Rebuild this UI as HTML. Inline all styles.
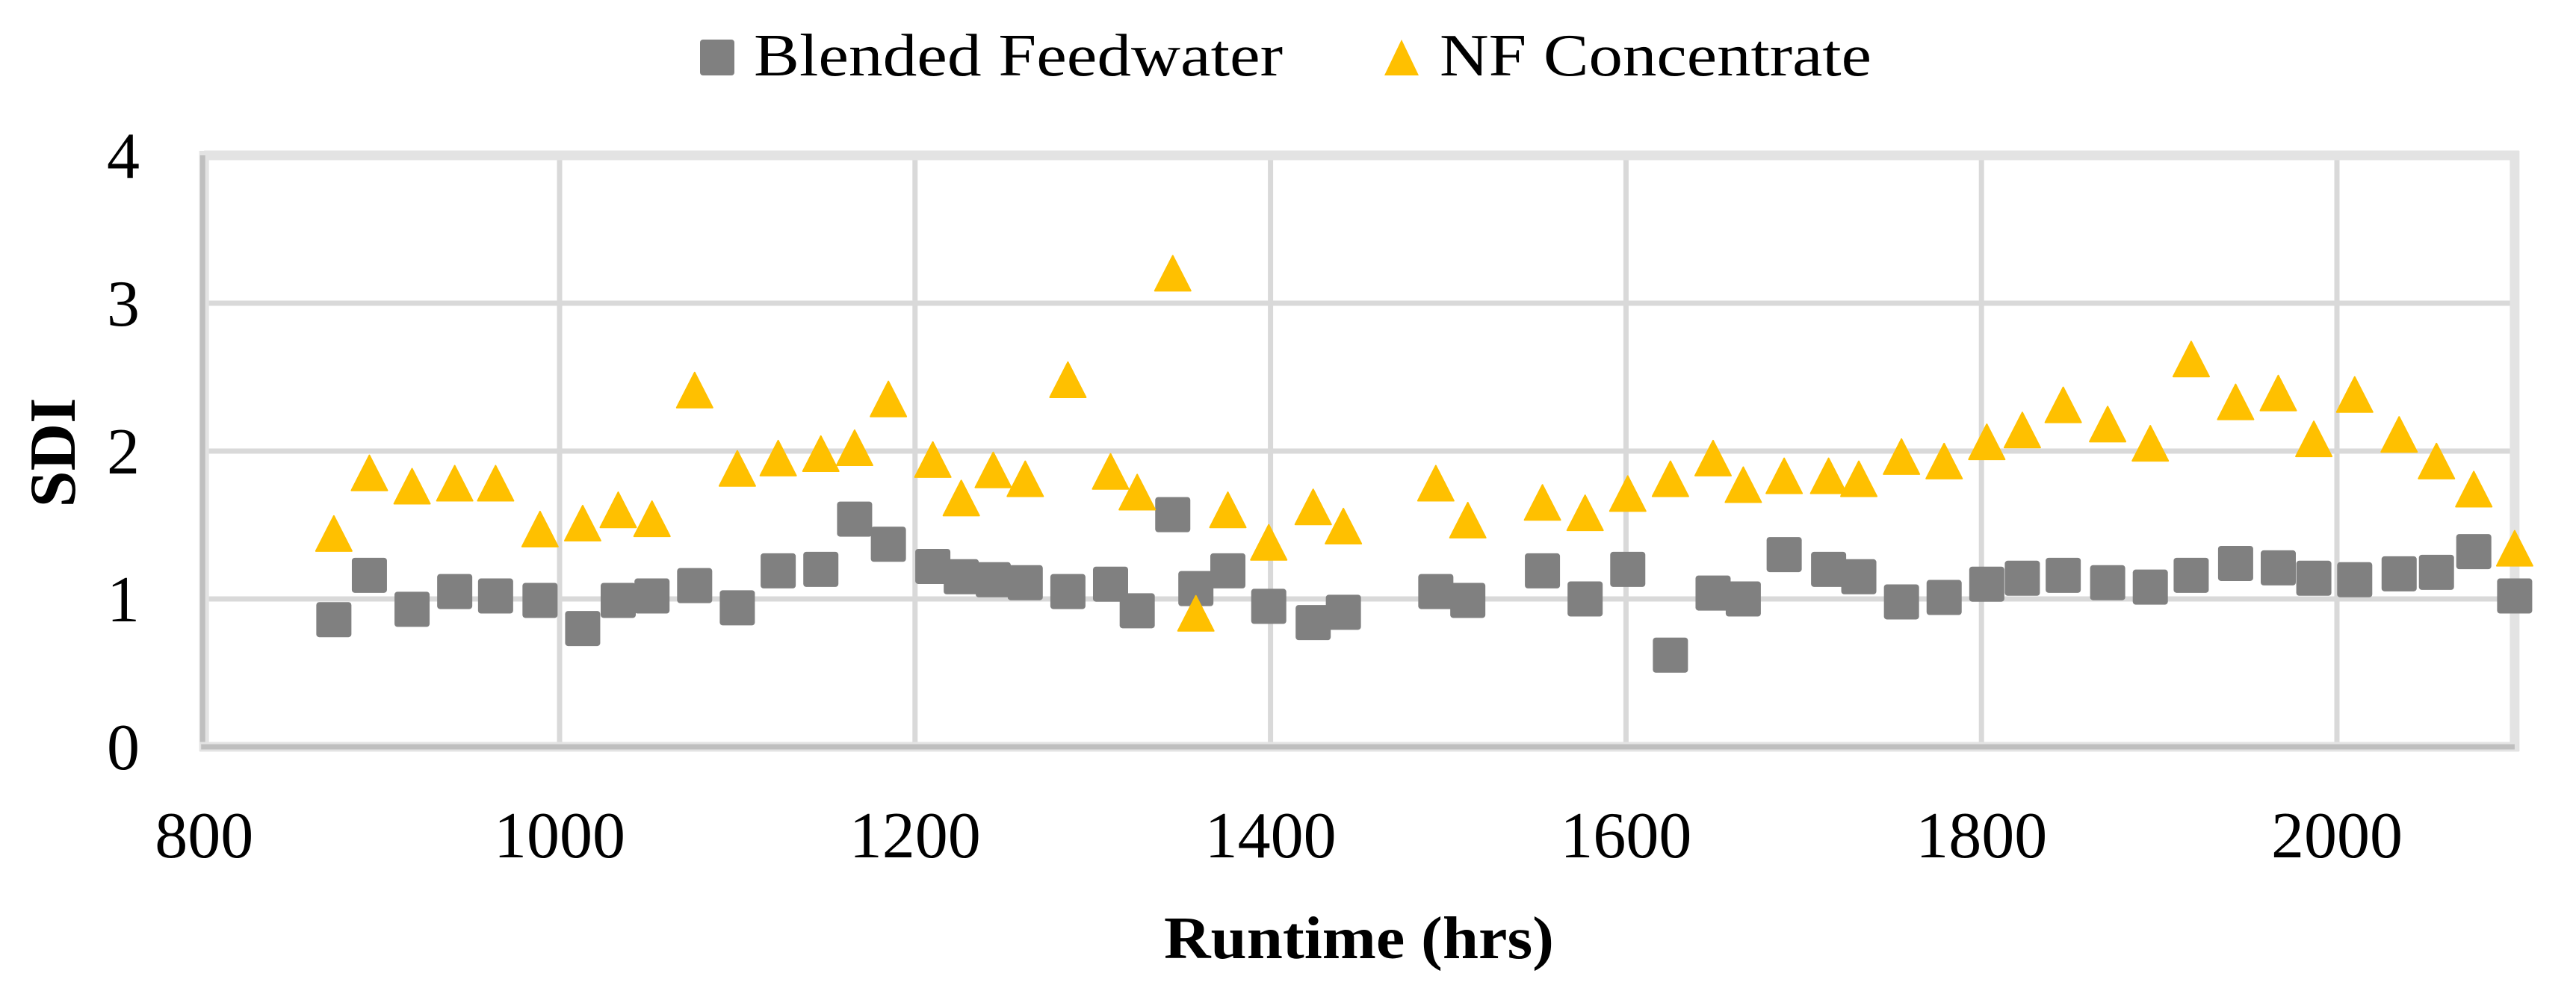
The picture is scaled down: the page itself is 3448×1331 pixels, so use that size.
<!DOCTYPE html>
<html><head><meta charset="utf-8"><style>
html,body{margin:0;padding:0;background:#fff;}
svg{display:block;font-family:"Liberation Serif",serif;}
</style></head><body>
<svg id="chart" width="3448" height="1331" viewBox="0 0 3448 1331" xmlns="http://www.w3.org/2000/svg">
<rect width="3448" height="1331" fill="#fff"/>
<g id="grid"></g>
<g id="frame"></g>
<g id="ticks"></g>
<g id="marks"></g>
<g>
 <g>
  <rect x="937" y="53" width="46" height="48" rx="4" fill="#808080"/>
  <text x="1009" y="101" font-size="80" textLength="708" lengthAdjust="spacingAndGlyphs">Blended Feedwater</text>
 </g>
 <g>
  <polygon points="1876,53 1899,101 1853,101" fill="#FFC000"/>
  <text x="1927" y="101" font-size="80" textLength="578" lengthAdjust="spacingAndGlyphs">NF Concentrate</text>
 </g>
</g>
<text x="1558" y="1283" font-size="80" font-weight="bold" textLength="522" lengthAdjust="spacingAndGlyphs">Runtime (hrs)</text>
<text transform="translate(100,606) rotate(-90)" text-anchor="middle" font-size="88" font-weight="bold">SDI</text>
</svg>
<script>
const xTicks = [800, 1000, 1200, 1400, 1600, 1800, 2000];
const yTicks = [0, 1, 2, 3, 4];
const feedX = [873,893,917,941,964,989,1013,1033,1052,1076,1100,1123,1147,1166,1185,1210,1226,1244,1262,1286,1310,1325,1345,1358,1376,1399,1424,1441,1493,1511,1553,1577,1601,1625,1649,1666,1689,1714,1731,1755,1779,1803,1823,1846,1871,1895,1918,1943,1967,1987,2010,2035,2056,2077,2100];
const feedSDI = [0.86,1.16,0.93,1.05,1.02,0.99,0.80,0.99,1.02,1.09,0.94,1.19,1.20,1.54,1.37,1.22,1.15,1.13,1.11,1.05,1.10,0.92,1.57,1.07,1.19,0.95,0.84,0.91,1.05,0.99,1.19,1.00,1.20,0.62,1.04,1.00,1.30,1.20,1.15,0.98,1.01,1.10,1.14,1.16,1.11,1.08,1.16,1.24,1.21,1.14,1.13,1.17,1.18,1.32,1.02];
const concX = [873,893,917,941,964,989,1013,1033,1052,1076,1100,1123,1147,1166,1185,1210,1226,1244,1262,1286,1310,1325,1345,1358,1376,1399,1424,1441,1493,1511,1553,1577,1601,1625,1649,1666,1689,1714,1731,1755,1779,1803,1823,1846,1871,1895,1918,1943,1967,1987,2010,2035,2056,2077,2100];
const concSDI = [1.44,1.85,1.76,1.78,1.78,1.47,1.51,1.60,1.54,2.41,1.88,1.95,1.98,2.02,2.35,1.94,1.68,1.87,1.81,2.48,1.86,1.72,3.20,0.90,1.60,1.38,1.62,1.49,1.78,1.53,1.65,1.58,1.71,1.81,1.95,1.77,1.83,1.83,1.81,1.96,1.93,2.06,2.14,2.31,2.18,2.05,2.62,2.33,2.39,2.08,2.38,2.11,1.93,1.74,1.34];

const NS = 'http://www.w3.org/2000/svg';
const X0 = 273.2, XPER = 2.379, XMIN = 800, XMAX = 2100;
const Y0 = 1000, YPER = 198, YMAX = 4;
function sx(v){ return X0 + (v - XMIN) * XPER; }
function sy(v){ return Y0 - v * YPER; }
function mk(tag, attrs, parent){
  const el = document.createElementNS(NS, tag);
  for (const k in attrs) el.setAttribute(k, attrs[k]);
  parent.appendChild(el);
  return el;
}
const gridG = document.getElementById('grid');
const frameG = document.getElementById('frame');
const ticksG = document.getElementById('ticks');
const marksG = document.getElementById('marks');
const xr = sx(XMAX), yt = sy(YMAX);

xTicks.forEach(function(t){
  if (t !== XMIN) {
    const l = mk('line', {x1: sx(t), x2: sx(t), y1: yt, y2: Y0, stroke: '#d9d9d9', 'stroke-width': 7}, gridG);
    
    
  }
  const tx = mk('text', {x: sx(t), y: 1148, 'text-anchor': 'middle', 'font-size': 88}, ticksG);
  tx.textContent = t;
  
  
});
yTicks.forEach(function(t){
  if (t !== 0 && t !== YMAX) {
    const l = mk('line', {x1: X0, x2: xr, y1: sy(t), y2: sy(t), stroke: '#d9d9d9', 'stroke-width': 7}, gridG);
    
    
  }
  const tx = mk('text', {x: 187, y: sy(t) + 30, 'text-anchor': 'end', 'font-size': 88}, ticksG);
  tx.textContent = t;
  
  
});
const borderTop = mk('line', {x1: X0, x2: xr + 6, y1: yt, y2: yt, stroke: '#e3e3e3', 'stroke-width': 13}, frameG);


const borderRight = mk('line', {x1: xr, x2: xr, y1: yt - 6, y2: Y0 + 6, stroke: '#e3e3e3', 'stroke-width': 13}, frameG);


const yAxisLight = mk('line', {x1: X0, x2: X0, y1: yt - 6, y2: Y0 + 6, stroke: '#e3e3e3', 'stroke-width': 13}, frameG);


const yAxisLine = mk('line', {x1: X0 - 2, x2: X0 - 2, y1: yt, y2: Y0 + 4, stroke: '#bfbfbf', 'stroke-width': 7}, frameG);


const xAxisLight = mk('line', {x1: X0 - 6, x2: xr + 6, y1: Y0, y2: Y0, stroke: '#e3e3e3', 'stroke-width': 13}, frameG);


const xAxisLine = mk('line', {x1: X0 - 4, x2: xr, y1: Y0, y2: Y0, stroke: '#bfbfbf', 'stroke-width': 7}, frameG);



const S = 47;
feedX.forEach(function(x, i){
  const r = mk('rect', {x: sx(x) - S/2, y: sy(feedSDI[i]) - S/2, width: S, height: S, rx: 4, fill: '#808080'}, marksG);
  
  
});
concX.forEach(function(x, i){
  const cx = sx(x), cy = sy(concSDI[i]);
  const p = mk('polygon', {points: cx + ',' + (cy - 24) + ' ' + (cx + 24) + ',' + (cy + 23) + ' ' + (cx - 24) + ',' + (cy + 23), fill: '#FFC000', stroke: '#FFC000', 'stroke-width': 2, 'stroke-linejoin': 'round'}, marksG);
  
  
});
</script>
</body></html>
